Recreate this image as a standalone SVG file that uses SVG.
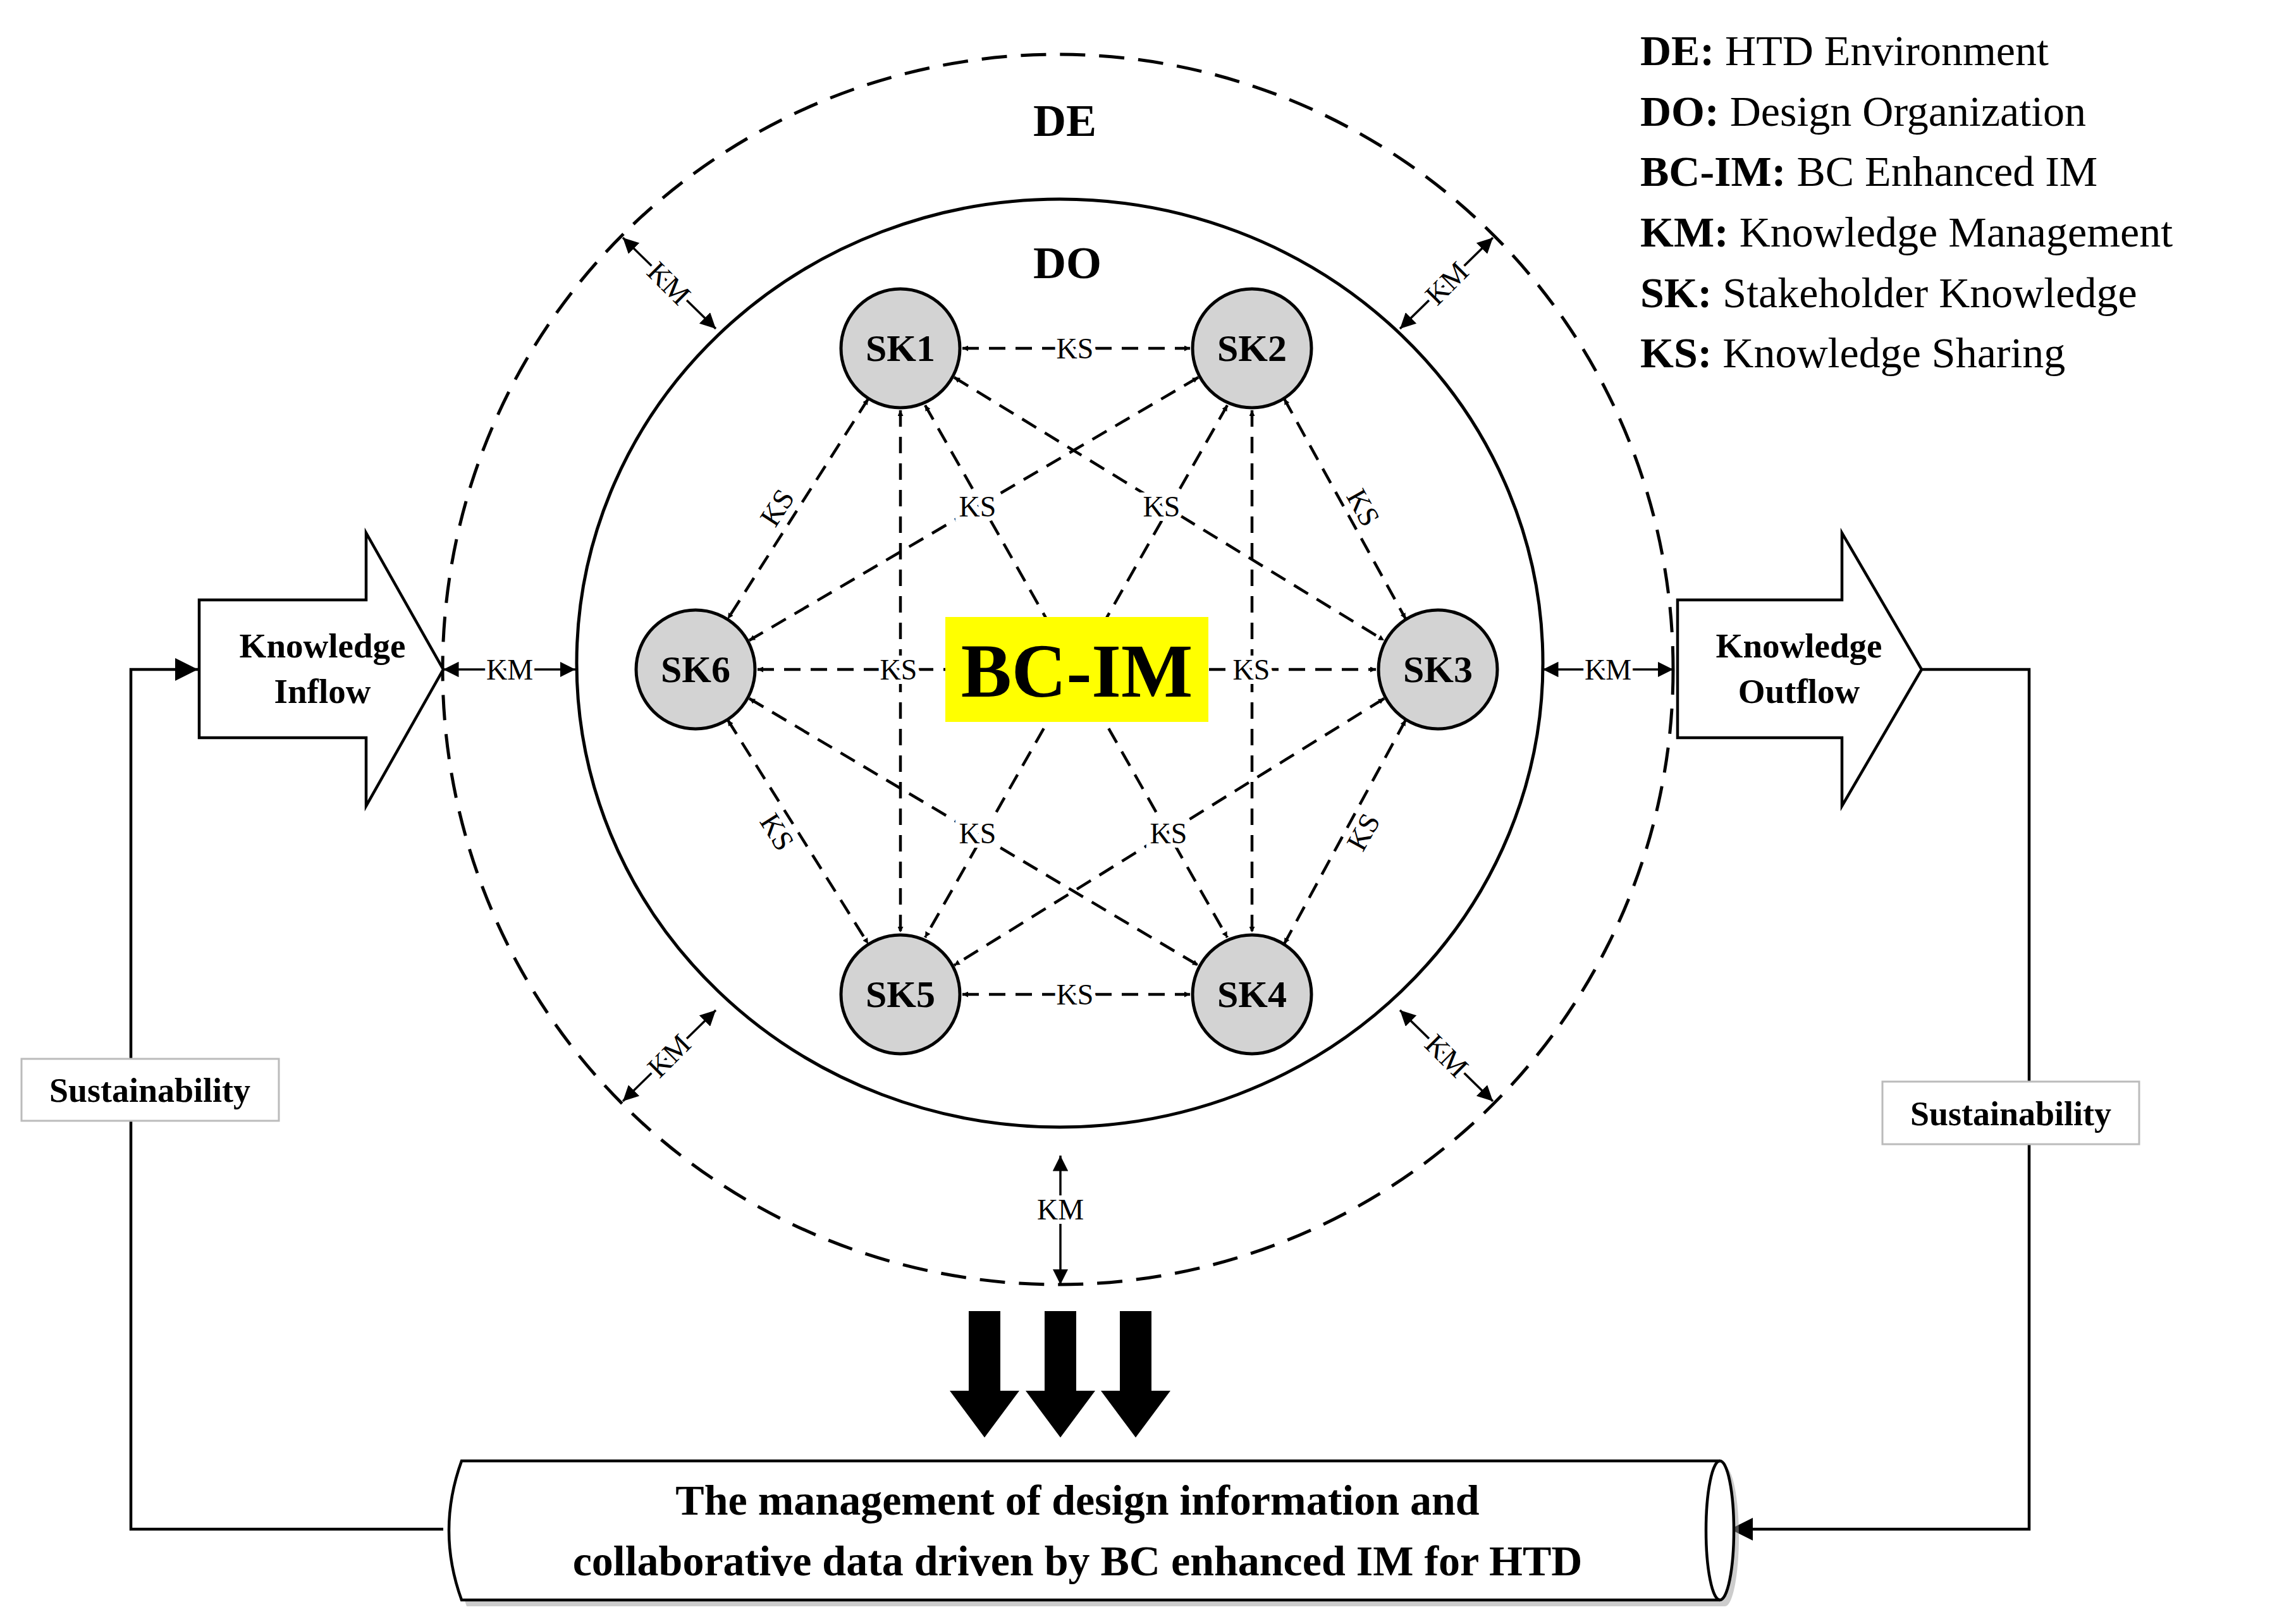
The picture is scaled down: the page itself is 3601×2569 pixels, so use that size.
<svg xmlns="http://www.w3.org/2000/svg" width="3601" height="2569" viewBox="0 0 3601 2569">
<style>
.t{font-family:"Liberation Serif","Times New Roman",serif;fill:#000}
.b{font-weight:bold}
.ks{font-family:"Liberation Serif",serif;font-size:46px;text-anchor:middle;dominant-baseline:central;paint-order:stroke;stroke:#fff;stroke-width:14px}
.e{stroke:#000;stroke-width:4.5;stroke-dasharray:26 16;fill:none;marker-start:url(#ah);marker-end:url(#ah)}
.km{stroke:#000;stroke-width:3.5;fill:none;marker-start:url(#ah2);marker-end:url(#ah2)}
.node{fill:#d3d3d3;stroke:#000;stroke-width:5}
.nl{font-family:"Liberation Serif",serif;font-weight:bold;font-size:60px;text-anchor:middle;dominant-baseline:central}
.ln{stroke:#000;stroke-width:4.5;fill:none}
</style>
<defs>
<marker id="ah" viewBox="0 0 10 10" refX="10" refY="5" markerWidth="9" markerHeight="9" markerUnits="userSpaceOnUse" orient="auto-start-reverse"><path d="M0,0 L10,5 L0,10 Z" fill="#000"/></marker>
<marker id="ah" viewBox="0 0 10 10" refX="10" refY="5" markerWidth="9" markerHeight="9" orient="auto-start-reverse"><path d="M0,0 L10,5 L0,10 Z"/></marker>
<marker id="ah2" viewBox="0 0 10 10" refX="10" refY="5" markerWidth="7" markerHeight="7" orient="auto-start-reverse"><path d="M0,0 L10,5 L0,10 Z"/></marker>
<marker id="ah3" viewBox="0 0 10 10" refX="10" refY="5" markerWidth="8" markerHeight="8" orient="auto"><path d="M0,0 L10,5 L0,10 Z"/></marker>
</defs>
<rect width="3601" height="2569" fill="#fff"/>

<g id="DE"><circle cx="1673" cy="1059" r="973" fill="none" stroke="#000" stroke-width="5" stroke-dasharray="40 22"/>
<text class="t b" x="1684" y="215" font-size="72" text-anchor="middle">DE</text></g>
<g id="DO"><ellipse cx="1676" cy="1049" rx="764" ry="734" fill="none" stroke="#000" stroke-width="5"/>
<text class="t b" x="1688" y="440" font-size="72" text-anchor="middle">DO</text></g>

<g id="legend" class="t" font-size="68">
<text x="2594" y="103"><tspan class="b">DE:</tspan> HTD Environment</text>
<text x="2594" y="199"><tspan class="b">DO:</tspan> Design Organization</text>
<text x="2594" y="294"><tspan class="b">BC-IM:</tspan> BC Enhanced IM</text>
<text x="2594" y="390"><tspan class="b">KM:</tspan> Knowledge Management</text>
<text x="2594" y="486"><tspan class="b">SK:</tspan> Stakeholder Knowledge</text>
<text x="2594" y="581"><tspan class="b">KS:</tspan> Knowledge Sharing</text>
</g>

<g id="connectors">
<!-- hexagon sides -->
<line class="e" x1="1522" y1="551" x2="1882" y2="551"/>
<line class="e" x1="1522" y1="1573" x2="1882" y2="1573"/>
<line class="e" x1="1373" y1="631" x2="1151" y2="979"/>
<line class="e" x1="2031" y1="631" x2="2223" y2="979"/>
<line class="e" x1="1151" y1="1139" x2="1373" y2="1493"/>
<line class="e" x1="2223" y1="1139" x2="2031" y2="1493"/>
<!-- verticals -->
<line class="e" x1="1424" y1="649" x2="1424" y2="1475"/>
<line class="e" x1="1980" y1="649" x2="1980" y2="1475"/>
<!-- long diagonals -->
<line class="e" x1="1198" y1="1059" x2="2176" y2="1059"/>
<line class="e" x1="1463" y1="641" x2="1941" y2="1483"/>
<line class="e" x1="1941" y1="641" x2="1463" y2="1483"/>
<!-- other diagonals -->
<line class="e" x1="1509" y1="597" x2="2189" y2="1013"/>
<line class="e" x1="1895" y1="597" x2="1185" y2="1013"/>
<line class="e" x1="1185" y1="1105" x2="1895" y2="1527"/>
<line class="e" x1="2189" y1="1105" x2="1509" y2="1527"/>
<!-- KM -->
<line class="km" x1="701" y1="1059" x2="910" y2="1059"/>
<line class="km" x1="2440" y1="1059" x2="2646" y2="1059"/>
<line class="km" x1="1677" y1="1828" x2="1677" y2="2032"/>
<line class="km" x1="985" y1="376" x2="1132" y2="520"/>
<line class="km" x1="2361" y1="376" x2="2214" y2="520"/>
<line class="km" x1="985" y1="1742" x2="1132" y2="1598"/>
<line class="km" x1="2361" y1="1742" x2="2214" y2="1598"/>
<!-- feedback -->
<polyline class="ln" points="701,2419 207,2419 207,1059 313,1059" marker-end="url(#ah3)"/>
<polyline class="ln" points="3039,1059 3209,1059 3209,2419 2736,2419" marker-end="url(#ah3)"/>
</g>

<g id="labels">
<text class="ks" x="1700" y="551">KS</text>
<text class="ks" x="1700" y="1573">KS</text>
<text class="ks" transform="translate(1229,803) rotate(-57)">KS</text>
<text class="ks" transform="translate(2156,803) rotate(61)">KS</text>
<text class="ks" transform="translate(1229,1316) rotate(58)">KS</text>
<text class="ks" transform="translate(2156,1316) rotate(-61)">KS</text>
<text class="ks" x="1421" y="1059">KS</text>
<text class="ks" x="1979" y="1059">KS</text>
<text class="ks" x="1546" y="801">KS</text>
<text class="ks" x="1837" y="801">KS</text>
<text class="ks" x="1546" y="1318">KS</text>
<text class="ks" x="1848" y="1318">KS</text>
<text class="ks" x="806" y="1059">KM</text>
<text class="ks" x="2543" y="1059">KM</text>
<text class="ks" x="1677" y="1913">KM</text>
<text class="ks" transform="translate(1058,448) rotate(45)">KM</text>
<text class="ks" transform="translate(2288,448) rotate(-45)">KM</text>
<text class="ks" transform="translate(1058,1670) rotate(-45)">KM</text>
<text class="ks" transform="translate(2288,1670) rotate(45)">KM</text>
</g>

<g id="BCIM"><rect x="1495" y="976" width="416" height="166" fill="#ffff00"/>
<text class="t b" x="1703" y="1102" font-size="120" text-anchor="middle">BC-IM</text></g>

<g id="SK1"><circle class="node" cx="1424" cy="551" r="94"/><text class="nl" x="1424" y="551">SK1</text></g>
<g id="SK2"><circle class="node" cx="1980" cy="551" r="94"/><text class="nl" x="1980" y="551">SK2</text></g>
<g id="SK3"><circle class="node" cx="2274" cy="1059" r="94"/><text class="nl" x="2274" y="1059">SK3</text></g>
<g id="SK4"><circle class="node" cx="1980" cy="1573" r="94"/><text class="nl" x="1980" y="1573">SK4</text></g>
<g id="SK5"><circle class="node" cx="1424" cy="1573" r="94"/><text class="nl" x="1424" y="1573">SK5</text></g>
<g id="SK6"><circle class="node" cx="1100" cy="1059" r="94"/><text class="nl" x="1100" y="1059">SK6</text></g>

<g id="inflow"><path d="M315,949 H579 V843 L701,1059 L579,1275 V1167 H315 Z" fill="#fff" stroke="#000" stroke-width="4.5"/>
<text class="t b" font-size="55" text-anchor="middle"><tspan x="510" y="1040">Knowledge</tspan><tspan x="510" y="1112">Inflow</tspan></text></g>
<g id="outflow"><path d="M2653,949 H2913 V843 L3039,1059 L2913,1275 V1167 H2653 Z" fill="#fff" stroke="#000" stroke-width="4.5"/>
<text class="t b" font-size="55" text-anchor="middle"><tspan x="2845" y="1040">Knowledge</tspan><tspan x="2845" y="1112">Outflow</tspan></text></g>

<g id="sust1"><rect x="34" y="1675" width="407" height="98" fill="#fff" stroke="#bbb" stroke-width="3"/>
<text class="t b" x="237" y="1743" font-size="54" text-anchor="middle">Sustainability</text></g>
<g id="sust2"><rect x="2977" y="1711" width="406" height="99" fill="#fff" stroke="#bbb" stroke-width="3"/>
<text class="t b" x="3180" y="1780" font-size="54" text-anchor="middle">Sustainability</text></g>

<g id="bigarrows" fill="#000">
<path d="M1532,2074 H1582 V2200 H1612 L1557,2274 L1502,2200 H1532 Z"/>
<path d="M1652,2074 H1702 V2200 H1732 L1677,2274 L1622,2200 H1652 Z"/>
<path d="M1771,2074 H1821 V2200 H1851 L1796,2274 L1741,2200 H1771 Z"/>
</g>

<g id="result">
<path d="M738,2321 H2728 A22 110 0 0 1 2728 2541 H738 Q698 2431 738 2321 Z" fill="#999" opacity="0.5"/>
<path d="M730,2311 H2720 A22 110 0 0 1 2720 2531 H730 Q690 2421 730 2311 Z" fill="#fff" stroke="#000" stroke-width="4.5"/>
<path d="M2720,2311 A22 110 0 0 0 2720 2531" fill="none" stroke="#000" stroke-width="4.5"/>
<text class="t b" font-size="68" text-anchor="middle"><tspan x="1704" y="2396">The management of design information and</tspan><tspan x="1704" y="2492">collaborative data driven by BC enhanced IM for HTD</tspan></text>
</g>
</svg>
